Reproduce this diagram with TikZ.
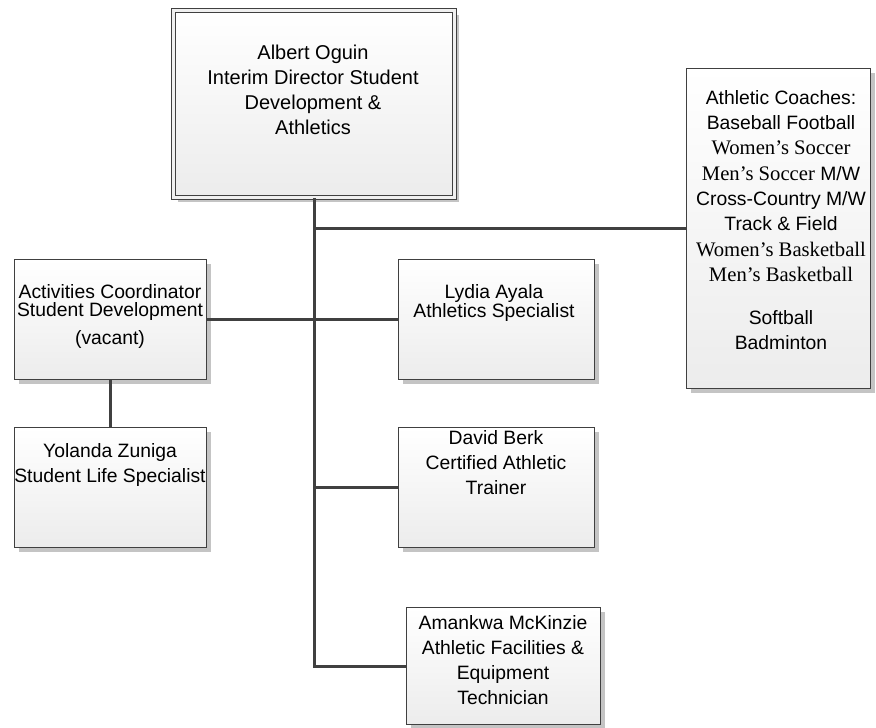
\documentclass[tikz,border=0pt]{standalone}
\usepackage{fontspec}
\setmainfont{Liberation Sans}
\newfontfamily\timesface{Liberation Serif}
\usepackage{xcolor}
\usepackage{tikz}
\usetikzlibrary{shadows}
\definecolor{linegray}{HTML}{404040}
\definecolor{shadowgray}{HTML}{C4C4C4}
\definecolor{fillgray}{HTML}{ECECEC}

\begin{document}
\begin{tikzpicture}[x=0.75pt,y=-0.75pt,
    orgbox/.style={draw=linegray,line width=0.9pt,top color=white,bottom color=fillgray,
        drop shadow={shadow xshift=3.5pt,shadow yshift=-3.5pt,fill=shadowgray,opacity=1},
        anchor=north west,inner sep=0pt},
    orgtext/.style={align=center,inner sep=0pt,font=\fontsize{14.5}{18.75}\selectfont},
    link/.style={draw=linegray,line width=2.2pt}]
    \useasboundingbox (0,0) rectangle (876,728);
    \node[orgbox,double=white!94!black,double distance=2.2pt,line width=0.8pt,
        minimum width=210.75pt,minimum height=140.25pt] (dir) at (173,10) {};
    \node[orgbox,minimum width=138pt,minimum height=240pt] (coach) at (686,68) {};
    \node[orgbox,minimum width=144pt,minimum height=90pt] (act) at (14,259) {};
    \node[orgbox,minimum width=147pt,minimum height=90pt] (lydia) at (398,259) {};
    \node[orgbox,minimum width=144pt,minimum height=90pt] (yol) at (14,427) {};
    \node[orgbox,minimum width=147pt,minimum height=90pt] (david) at (398,427) {};
    \node[orgbox,minimum width=145.5pt,minimum height=87.75pt] (aman) at (406,607) {};
    \node[orgtext,font=\fontsize{15}{18.75}\selectfont] (dir-txt) at (313,89.5)
        {Albert Oguin\\Interim Director Student\\Development \&\\Athletics};
    \node[orgtext,font=\fontsize{14.5}{19}\selectfont] (coach-txt) at (781,220)
        {Athletic Coaches:\\Baseball Football\\{\timesface\fontsize{15.5}{19}\selectfont Women’s Soccer}\\
        {\timesface\fontsize{15.5}{19}\selectfont Men’s Soccer} M/W\\Cross-Country M/W\\Track \& Field\\
        {\timesface\fontsize{15.5}{19}\selectfont Women’s Basketball}\\
        {\timesface\fontsize{15.5}{19}\selectfont Men’s Basketball}\\[13pt]Softball\\Badminton};
    \node[orgtext] (act-txt) at (110,316)
        {Activities Coordinator\\[-5pt]Student Development\\[2pt](vacant)};
    \node[orgtext] (lydia-txt) at (494,302.5) {Lydia Ayala\\[-4.5pt]Athletics Specialist};
    \node[orgtext] (yol-txt) at (110,464.5) {Yolanda Zuniga\\Student Life Specialist};
    \node[orgtext] (david-txt) at (496,463) {David Berk\\Certified Athletic\\Trainer};
    \node[orgtext] (aman-txt) at (503,660)
        {Amankwa McKinzie\\Athletic Facilities \&\\Equipment\\Technician};
    \draw[link] (dir.south) |- (aman.west);
    \draw[link] (dir.south |- coach.west) -- (coach.west);
    \draw[link] (act.east) -- (lydia.west);
    \draw[link] (dir.south |- david.west) -- (david.west);
    \draw[link] (act.south) -- (yol.north);
\end{tikzpicture}
\end{document}
